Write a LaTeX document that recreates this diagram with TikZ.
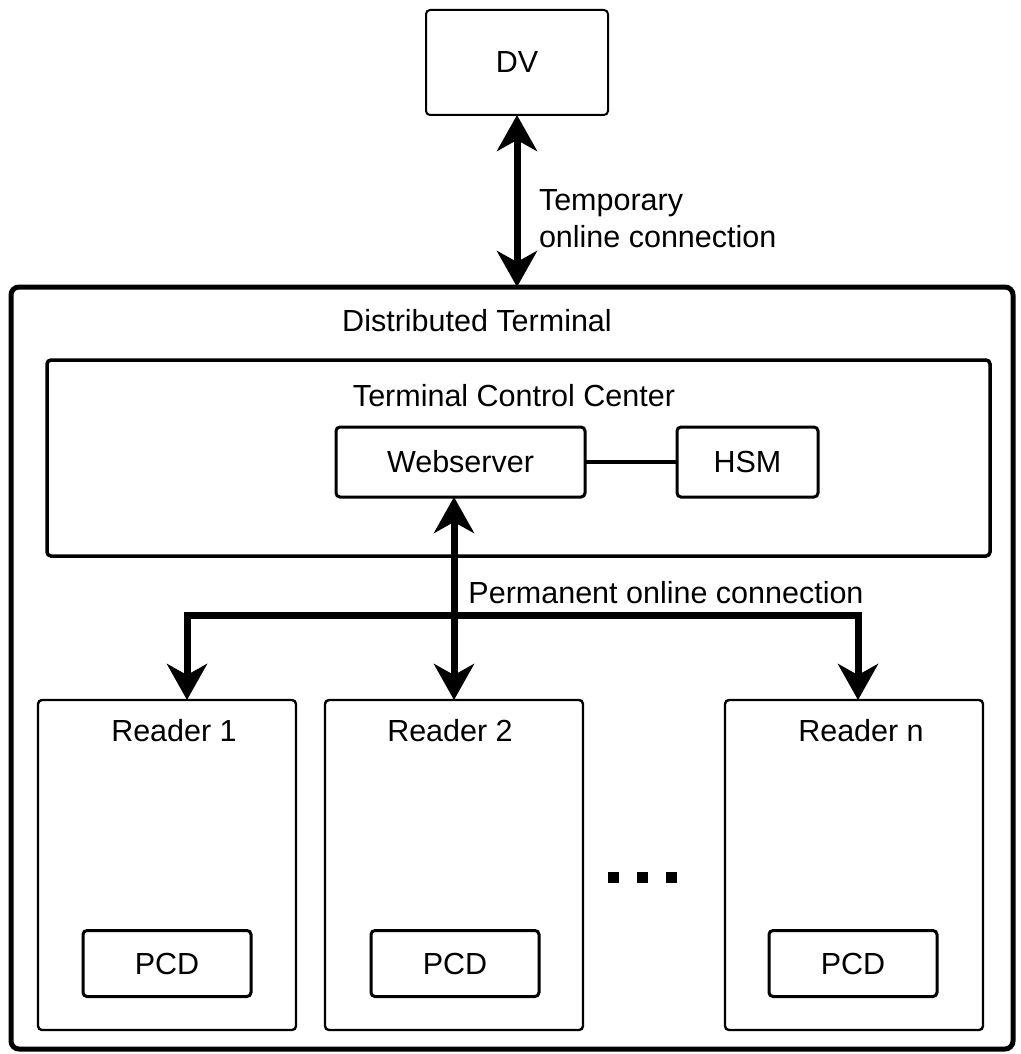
\documentclass[tikz,border=0pt]{standalone}
\usepackage{fontspec}
\setmainfont{Liberation Sans}
\usetikzlibrary{arrows.meta,calc}
\begin{document}
\begin{tikzpicture}[x=1pt,y=-1pt,
  every node/.style={font=\fontsize{30.5}{37}\selectfont, inner sep=0pt, outer sep=0pt},
  box/.style={draw, rounded corners=4pt, line width=2.2pt},
  pcdbox/.style={draw, rounded corners=4pt, line width=3pt, minimum width=168pt, minimum height=66pt},
  readerbox/.style={draw, rounded corners=4pt, line width=2.4pt, minimum width=258pt, minimum height=330pt},
  lbl/.style={},
  biarrow/.style={line width=7pt, {Stealth[length=36pt,width=40pt,inset=11pt]}-{Stealth[length=36pt,width=40pt,inset=11pt]}},
  onearrow/.style={line width=7pt, -{Stealth[length=36pt,width=40pt,inset=11pt]}}]
\useasboundingbox (0,0) rectangle (1020,1054);
% outer
\node[draw, rounded corners=8pt, line width=5pt, minimum width=1002pt, minimum height=762pt] (outer) at (512,668) {};
\node[lbl] (dtlbl) at (477,321) {Distributed Terminal};
% DV
\node[box, line width=2pt, minimum width=182pt, minimum height=105pt] (dv) at (517,62.5) {DV};
\draw[biarrow] (dv.south) -- (dv.south |- outer.north);
\node[lbl, anchor=west, align=left] (templbl) at (539,219) {Temporary\\online connection};
% TCC
\node[box, line width=3.5pt, minimum width=943pt, minimum height=196pt] (tcc) at (518.5,458) {};
\node[lbl] (tcclbl) at (514,396) {Terminal Control Center};
\node[box, line width=3pt, minimum width=249pt, minimum height=70pt] (web) at (460.5,462) {Webserver};
\node[box, line width=3pt, minimum width=141pt, minimum height=70pt] (hsm) at (747.5,462) {HSM};
\draw[line width=3.5pt] (web.east) -- (hsm.west);
% readers
\node[readerbox] (r1) at (167,865) {};
\node[readerbox] (r2) at (454,865) {};
\node[readerbox] (rn) at (854,865) {};
\node[lbl] (r1lbl) at (174,731) {Reader 1};
\node[lbl] (r2lbl) at (450,731) {Reader 2};
\node[lbl] (rnlbl) at (861,731) {Reader n};
\node[pcdbox] (p1) at (167,963.5) {PCD};
\node[pcdbox] (p2) at (455,963.5) {PCD};
\node[pcdbox] (pn) at (853,963.5) {PCD};
% connections
\coordinate (bus) at (454,615);
\draw[onearrow] (bus) -| ($(r1.north)+(20,0)$);
\draw[onearrow] (bus) -| ($(rn.north)+(4,0)$);
\draw[biarrow] (r2.north |- web.south) -- (r2.north);
\node[lbl] (permlbl) at (666,593) {Permanent online connection};
% dots
\foreach \xx/\nm in {613/d1,642/d2,671/d3}
  \node[fill=black, minimum size=11pt] (\nm) at (\xx,877) {};
\end{tikzpicture}
\end{document}
